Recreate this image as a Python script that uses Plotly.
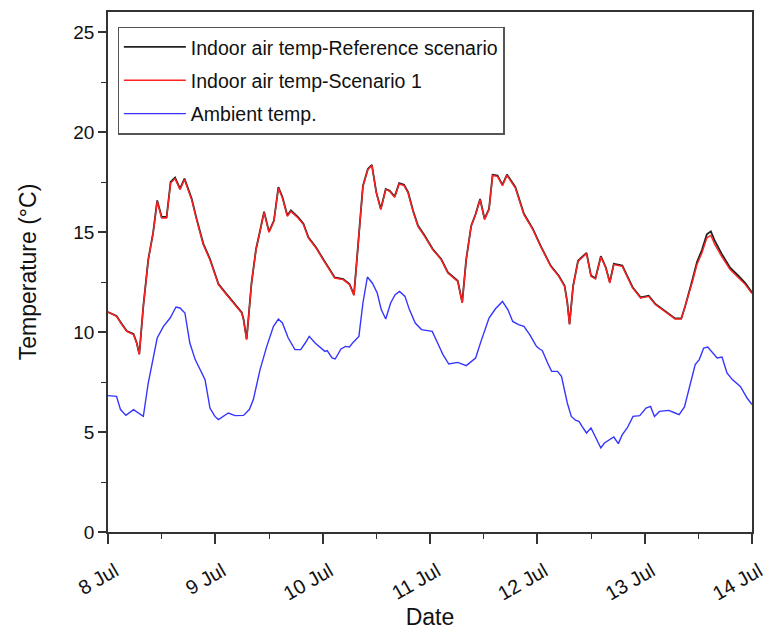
import plotly.graph_objects as go
import pandas as pd

# hours since 8 Jul 00:00
indoor_hours = [0, 1.9, 3.1, 4.2, 5.7, 6.4, 7.0, 7.9, 9.0, 10.1, 11.0, 12.0, 13.1, 14.0, 15.0, 16.1, 17.1,
                18.7, 19.8, 21.3, 22.8, 23.5, 24.7, 26.2, 28.0, 29.9, 30.3, 31.0, 32.1, 33.1, 34.0, 34.9,
                36.0, 37.1, 38.1, 39.0, 40.1, 40.9, 42.5, 43.7, 44.8, 46.5, 48.1, 49.2, 50.7, 52.6, 54.0,
                55.0, 55.9, 57.0, 58.1, 59.0, 60.0, 61.0, 62.1, 63.0, 64.1, 65.1, 66.2, 67.1, 68.2, 69.3,
                70.8, 72.6, 74.5, 76.0, 78.2, 78.6, 79.2, 80.1, 81.2, 82.2, 83.2, 84.2, 85.2, 86.0, 87.1,
                88.2, 89.2, 91.1, 93.0, 95.0, 96.8, 99.0, 100.8, 102.1, 102.7, 103.2, 104.0, 105.1, 106.0,
                107.0, 108.0, 109.0, 110.2, 111.3, 112.2, 113.1, 115.0, 116.1, 117.3, 119.1, 120.9, 122.4,
                124.6, 126.8, 128.2, 129.1, 130.6, 131.7, 132.8, 133.9, 134.8, 135.7, 137.2, 139.1, 141.0,
                142.5, 144.0]

scenario1 = [11.0, 10.78, 10.37, 10.03, 9.87, 9.45, 8.87, 11.28, 13.6, 14.95, 16.53, 15.7, 15.7, 17.45,
             17.67, 17.12, 17.62, 16.62, 15.62, 14.37, 13.6, 13.12, 12.37, 11.95, 11.45, 10.95, 10.62, 9.62,
             12.45, 14.12, 15.03, 15.98, 14.98, 15.53, 17.2, 16.7, 15.78, 16.03, 15.7, 15.37, 14.7, 14.2,
             13.62, 13.2, 12.7, 12.62, 12.37, 11.83, 14.12, 17.28, 18.12, 18.33, 16.95, 16.12, 17.12, 17.03,
             16.73, 17.4, 17.32, 16.95, 16.03, 15.28, 14.78, 14.12, 13.62, 12.95, 12.53, 12.12, 11.45, 13.62,
             15.28, 15.87, 16.62, 15.62, 16.12, 17.82, 17.78, 17.32, 17.83, 17.2, 15.87, 15.12, 14.25, 13.28,
             12.78, 12.28, 11.45, 10.37, 12.28, 13.53, 13.7, 13.92, 12.78, 12.65, 13.75, 13.2, 12.45, 13.37,
             13.28, 12.78, 12.2, 11.7, 11.78, 11.37, 11.03, 10.65, 10.65, 11.28, 12.45, 13.37, 13.95, 14.7,
             14.83, 14.37, 13.78, 13.12, 12.7, 12.37, 11.92]

reference = [11.0, 10.8, 10.4, 10.05, 9.9, 9.47, 8.9, 11.3, 13.62, 14.98, 16.58, 15.75, 15.75, 17.5,
             17.72, 17.17, 17.67, 16.67, 15.67, 14.42, 13.65, 13.15, 12.4, 11.98, 11.48, 10.98, 10.65, 9.65,
             12.47, 14.15, 15.06, 16.02, 15.02, 15.57, 17.24, 16.75, 15.83, 16.08, 15.75, 15.42, 14.74, 14.24,
             13.65, 13.23, 12.73, 12.65, 12.4, 11.86, 14.14, 17.3, 18.15, 18.36, 16.98, 16.15, 17.15, 17.06,
             16.77, 17.44, 17.36, 16.99, 16.07, 15.32, 14.82, 14.15, 13.65, 12.98, 12.56, 12.15, 11.48, 13.64,
             15.3, 15.9, 16.65, 15.66, 16.16, 17.86, 17.82, 17.36, 17.87, 17.24, 15.91, 15.16, 14.28, 13.31,
             12.81, 12.31, 11.48, 10.4, 12.3, 13.56, 13.74, 13.96, 12.82, 12.69, 13.79, 13.24, 12.49, 13.41,
             13.32, 12.82, 12.24, 11.73, 11.81, 11.4, 11.06, 10.68, 10.68, 11.32, 12.55, 13.5, 14.1, 14.88,
             15.03, 14.55, 13.92, 13.22, 12.8, 12.45, 11.97]

ambient_hours = [0, 1.9, 2.8, 4.0, 5.7, 6.8, 7.9, 9.0, 10.1, 11.0, 12.4, 13.9, 15.2, 16.1, 17.2, 18.3, 19.5,
                 20.6, 21.7, 22.8, 23.9, 24.7, 25.8, 26.9, 28.4, 30.3, 31.6, 32.5, 34.0, 35.5, 37.0, 38.1,
                 39.0, 40.3, 41.8, 43.1, 44.1, 45.0, 46.3, 47.4, 48.5, 49.0, 50.1, 50.8, 52.1, 53.1, 54.0,
                 54.8, 56.1, 57.0, 58.0, 59.1, 60.2, 61.1, 62.1, 63.2, 64.2, 65.2, 66.4, 67.4, 68.7, 70.1,
                 71.4, 72.5, 73.7, 74.9, 76.2, 78.2, 80.1, 82.2, 83.4, 85.2, 86.6, 88.2, 89.4, 90.5, 91.8,
                 93.0, 94.3, 95.8, 96.5, 97.1, 98.3, 99.2, 100.5, 101.4, 102.7, 103.6, 104.6, 105.3, 106.0,
                 107.0, 108.0, 109.0, 110.2, 111.0, 112.0, 113.1, 114.1, 115.0, 116.1, 117.4, 118.9, 120.3,
                 121.3, 122.2, 123.3, 125.4, 126.8, 127.7, 128.9, 130.2, 131.3, 132.2, 133.2, 134.1, 135.0,
                 136.2, 137.3, 138.4, 139.6, 141.4, 142.9, 144.0]

ambient = [6.82, 6.78, 6.12, 5.83, 6.12, 5.95, 5.78, 7.45, 8.78, 9.7, 10.28, 10.7, 11.25, 11.2, 10.95, 9.45,
           8.62, 8.12, 7.62, 6.2, 5.78, 5.62, 5.78, 5.95, 5.82, 5.83, 6.12, 6.62, 8.12, 9.28, 10.28, 10.65,
           10.45, 9.7, 9.12, 9.12, 9.45, 9.78, 9.45, 9.25, 9.03, 9.07, 8.7, 8.65, 9.15, 9.28, 9.25, 9.48, 9.78,
           11.45, 12.75, 12.45, 11.95, 11.12, 10.65, 11.45, 11.87, 12.03, 11.78, 11.12, 10.45, 10.12, 10.08,
           10.03, 9.45, 8.87, 8.4, 8.48, 8.32, 8.7, 9.53, 10.7, 11.15, 11.53, 11.12, 10.53, 10.37, 10.28, 9.87,
           9.28, 9.15, 9.08, 8.45, 8.03, 8.03, 7.78, 6.45, 5.78, 5.58, 5.53, 5.28, 4.95, 5.2, 4.78, 4.2, 4.45,
           4.58, 4.75, 4.42, 4.87, 5.2, 5.78, 5.82, 6.2, 6.28, 5.78, 6.03, 6.08, 5.95, 5.87, 6.25, 7.45, 8.37,
           8.62, 9.2, 9.25, 9.03, 8.7, 8.75, 7.95, 7.62, 7.28, 6.7, 6.37]

start = pd.Timestamp("2019-07-08")
t_in = start + pd.to_timedelta(indoor_hours, unit="h")
t_amb = start + pd.to_timedelta(ambient_hours, unit="h")

fig = go.Figure()
fig.add_trace(go.Scatter(x=t_in, y=reference, mode="lines", name="Indoor air temp-Reference scenario",
                         legendgroup="a", line=dict(color="#222222", width=1.8)))
fig.add_trace(go.Scatter(x=t_in, y=scenario1, mode="lines", name="Indoor air temp-Scenario 1",
                         legendgroup="b", line=dict(color="#ff2222", width=1.4)))
fig.add_trace(go.Scatter(x=t_amb, y=ambient, mode="lines", name="Ambient temp.",
                         legendgroup="c", line=dict(color="#3535ff", width=1.4)))

family = "Liberation Sans, Arial, sans-serif"

fig.update_xaxes(
    range=[start, start + pd.Timedelta(days=6)],
    tickformat="%-d %b", dtick=86400000, tick0=start,
    tickangle=-30, tickfont=dict(family=family, size=20, color="#111"), automargin=False,
    ticklabelstandoff=8, ticklabelshift=7,
    ticks="outside", ticklen=10, tickwidth=1.5, tickcolor="#333",
    minor=dict(ticks="outside", dtick=43200000, ticklen=5, tickwidth=1.2, tickcolor="#333"),
    showline=True, linecolor="#333", linewidth=1.5, mirror=True,
    showgrid=False, zeroline=False,
    title=dict(text="Date", font=dict(family=family, size=23, color="#111"), standoff=5),
)
fig.update_yaxes(
    range=[0, 26], dtick=5, tickfont=dict(family=family, size=19, color="#111"), automargin=False,
    ticks="outside", ticklen=8, tickwidth=1.5, tickcolor="#333",
    minor=dict(ticks="outside", dtick=2.5, ticklen=5, tickwidth=1.2, tickcolor="#333"),
    showline=True, linecolor="#333", linewidth=1.5, mirror=True,
    showgrid=False, zeroline=False,
    title=dict(text="Temperature (°C)", font=dict(family=family, size=23, color="#111"), standoff=30),
)

fig.update_layout(
    width=773, height=634,
    margin=dict(l=100, r=29, t=4, b=110, autoexpand=False),
    plot_bgcolor="white", paper_bgcolor="white",
    legend=dict(x=0.015, y=0.972, xanchor="left", yanchor="top",
                font=dict(family=family, size=19.5, color="#111"),
                bordercolor="#555", borderwidth=1.2, bgcolor="white",
                tracegroupgap=5, itemwidth=62),
)

fig.write_html("out.html")
